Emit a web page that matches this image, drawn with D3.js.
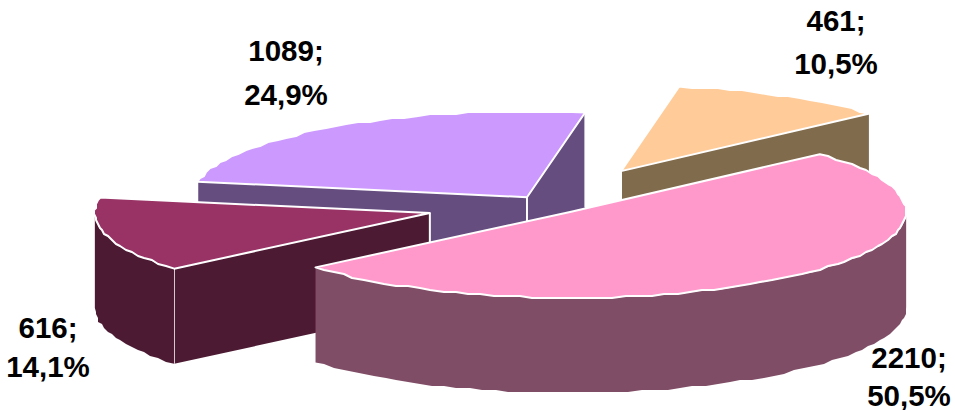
<!DOCTYPE html>
<html>
<head>
<meta charset="utf-8">
<script src="https://cdn.jsdelivr.net/npm/d3@7"></script>
<style>
  html, body { margin: 0; padding: 0; background: #fff; }
  svg { display: block; }
  .label { font-family: "Liberation Sans", Arial, sans-serif; font-weight: bold; font-size: 29.5px; fill: #000; text-anchor: middle; }
</style>
</head>
<body>
<div id="vis"></div>
<script>
// chart values, in drawing order round the pie
const VALUES = [461, 2210, 616, 1089];

// looks of each slice
const TOP_COLORS = ["#FFCC99", "#FF99CC", "#993366", "#CC99FF"];
const WALL_COLORS = ["#806B4D", "#804D66", "#4D1A33", "#664D80"];
const EXPLODE = [0.45, 0.105, 0.365, 0.11];
const LABEL_POS = [[836, 21], [909, 358], [48, 328], [286, 51]];
const LABEL_GAP = [43, 38, 39, 44];

const FRAME_WIDTH = 955;
const FRAME_HEIGHT = 410;
const CENTER = {x: 548, y: 205};
const RX = 335;
const RY = 86;
const DEPTH = 95;
const START_ANGLE = 10 * Math.PI / 180;

const FRAME = d3.select("#vis")
                .append("svg")
                  .attr("width", FRAME_WIDTH)
                  .attr("height", FRAME_HEIGHT);

// unit circle to the flattened pie plane
const X_SCALE = d3.scaleLinear().domain([-1, 1]).range([-RX, RX]);
const Y_SCALE = d3.scaleLinear().domain([-1, 1]).range([RY, -RY]);

const pie = d3.pie()
              .sort(null)
              .startAngle(START_ANGLE)
              .endAngle(START_ANGLE + 2 * Math.PI);

const total = d3.sum(VALUES);
const pct = d3.formatLocale({decimal: ",", thousands: " ", grouping: [3], currency: ["", ""]}).format(".1f");

const slices = pie(VALUES).map((d, i) => {
  const mid = (d.startAngle + d.endAngle) / 2;
  return {
    ...d,
    i: i,
    cx: CENTER.x + EXPLODE[i] * X_SCALE(Math.sin(mid)),
    cy: CENTER.y + EXPLODE[i] * Y_SCALE(Math.cos(mid))
  };
});

// point on the rim of a slice at angle a (clockwise from 12 o'clock)
function rim(s, a, drop) {
  return [s.cx + X_SCALE(Math.sin(a)), s.cy + Y_SCALE(Math.cos(a)) + (drop || 0)];
}

// rim is kept coarse and snapped to 2px, the source chart has a rough edge too
function arcPoints(s, a0, a1, drop) {
  const n = Math.max(2, Math.ceil((a1 - a0) / 0.04));
  return d3.range(n + 1).map((k) => {
    const p = rim(s, a0 + (a1 - a0) * k / n, drop);
    if (k === 0 || k === n) return p;
    return [Math.round(p[0] / 2) * 2, Math.round(p[1] / 2) * 2];
  });
}

const line = d3.line();

function drawWall(s, a) {
  const p = rim(s, a);
  FRAME.append("path")
    .attr("d", line([[s.cx, s.cy], p, [p[0], p[1] + DEPTH], [s.cx, s.cy + DEPTH]]) + "Z")
    .attr("fill", WALL_COLORS[s.i]);
  FRAME.append("line")
    .attr("x1", s.cx).attr("y1", s.cy)
    .attr("x2", s.cx).attr("y2", s.cy + DEPTH)
    .attr("stroke", "#fff").attr("stroke-width", 2);
  FRAME.append("line")
    .attr("x1", p[0]).attr("y1", p[1])
    .attr("x2", p[0]).attr("y2", p[1] + DEPTH)
    .attr("stroke", "#fff").attr("stroke-width", 1.5);
}

function drawSlice(s) {
  // flat side walls that face the viewer
  if (Math.sin(s.startAngle) < 0) drawWall(s, s.startAngle);
  if (Math.sin(s.endAngle) > 0) drawWall(s, s.endAngle);

  // round outer wall, only the front half of the rim shows
  const a0 = Math.max(s.startAngle, Math.PI / 2);
  const a1 = Math.min(s.endAngle, 3 * Math.PI / 2);
  if (a1 > a0) {
    const pts = arcPoints(s, a0, a1, 0).concat(arcPoints(s, a0, a1, DEPTH).reverse());
    FRAME.append("path")
      .attr("d", line(pts) + "Z")
      .attr("fill", WALL_COLORS[s.i]);
  }

  // top face
  const top = [[s.cx, s.cy]].concat(arcPoints(s, s.startAngle, s.endAngle, 0));
  FRAME.append("path")
    .attr("d", line(top) + "Z")
    .attr("fill", TOP_COLORS[s.i])
    .attr("stroke", "#fff")
    .attr("stroke-width", 2)
    .attr("stroke-linejoin", "round");
}

// back slices first, pink one last because it sits in front
[0, 3, 2, 1].forEach((i) => drawSlice(slices[i]));

// data labels
VALUES.forEach((v, i) => {
  FRAME.append("text")
    .attr("class", "label")
    .attr("x", LABEL_POS[i][0])
    .attr("y", LABEL_POS[i][1] + 10)
    .text(v + ";");
  FRAME.append("text")
    .attr("class", "label")
    .attr("x", LABEL_POS[i][0])
    .attr("y", LABEL_POS[i][1] + 10 + LABEL_GAP[i])
    .text(pct(v / total * 100) + "%");
});
</script>
</body>
</html>
